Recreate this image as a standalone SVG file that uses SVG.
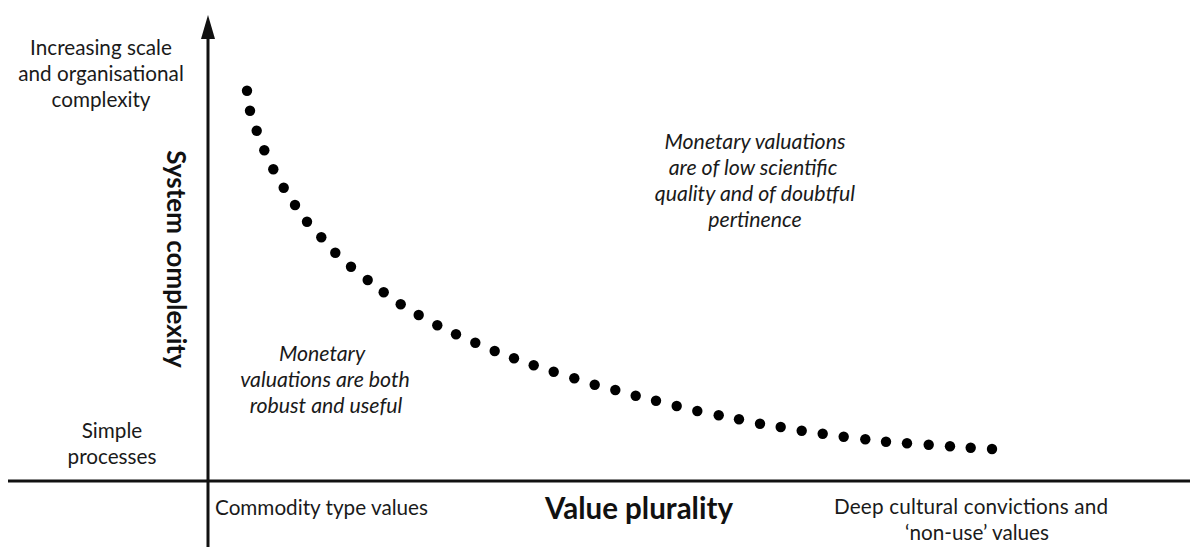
<svg xmlns="http://www.w3.org/2000/svg" width="1190" height="547" viewBox="0 0 1190 547">
<style>
  .lbl { font-family: Lato, "Open Sans", "Liberation Sans", sans-serif; font-size: 20.7px; fill: #1a1a1a; text-anchor: middle; }
  .ital { font-family: Lato, "Open Sans", "Liberation Sans", sans-serif; font-size: 21.3px; font-style: italic; fill: #1a1a1a; text-anchor: middle; }
  .axt { font-family: Lato, "Open Sans", "Liberation Sans", sans-serif; font-weight: bold; fill: #111; text-anchor: middle; }
  .axis { stroke: #111; stroke-width: 3; fill: none; }
  .dot { fill: #000; }
</style>
<defs>
  <marker id="arrow" markerUnits="userSpaceOnUse" markerWidth="24" markerHeight="14" refX="12" refY="7" orient="auto">
    <path d="M0,0 L24,7 L0,14 Z" fill="#111"/>
  </marker>
</defs>
<rect width="1190" height="547" fill="#fff"/>
<g id="connectors">
  <line class="axis" x1="208" y1="547" x2="208" y2="27" marker-end="url(#arrow)"/>
  <line class="axis" x1="8" y1="481" x2="1190" y2="481"/>
</g>
<g id="curve">
  <circle class="dot" cx="247" cy="90.7" r="5.2"/>
  <circle class="dot" cx="250" cy="110.7" r="5.2"/>
  <circle class="dot" cx="256.7" cy="130.7" r="5.2"/>
  <circle class="dot" cx="264.3" cy="150.3" r="5.2"/>
  <circle class="dot" cx="273.3" cy="169.3" r="5.2"/>
  <circle class="dot" cx="283.7" cy="187.7" r="5.2"/>
  <circle class="dot" cx="295" cy="205" r="5.2"/>
  <circle class="dot" cx="307" cy="221.7" r="5.2"/>
  <circle class="dot" cx="321.3" cy="237.3" r="5.2"/>
  <circle class="dot" cx="335.3" cy="252.7" r="5.2"/>
  <circle class="dot" cx="351" cy="266.7" r="5.2"/>
  <circle class="dot" cx="367.7" cy="280" r="5.2"/>
  <circle class="dot" cx="383.7" cy="292.3" r="5.2"/>
  <circle class="dot" cx="400.7" cy="304.3" r="5.2"/>
  <circle class="dot" cx="418.7" cy="315" r="5.2"/>
  <circle class="dot" cx="437.3" cy="325.2" r="5.2"/>
  <circle class="dot" cx="456" cy="334.3" r="5.2"/>
  <circle class="dot" cx="475.3" cy="342.7" r="5.2"/>
  <circle class="dot" cx="494.7" cy="351" r="5.2"/>
  <circle class="dot" cx="514" cy="358.3" r="5.2"/>
  <circle class="dot" cx="533.7" cy="365.3" r="5.2"/>
  <circle class="dot" cx="553.7" cy="371.7" r="5.2"/>
  <circle class="dot" cx="574.3" cy="378.3" r="5.2"/>
  <circle class="dot" cx="594.7" cy="384.7" r="5.2"/>
  <circle class="dot" cx="615.3" cy="390" r="5.2"/>
  <circle class="dot" cx="635.7" cy="395.7" r="5.2"/>
  <circle class="dot" cx="656" cy="400.7" r="5.2"/>
  <circle class="dot" cx="676.7" cy="406" r="5.2"/>
  <circle class="dot" cx="697.3" cy="411" r="5.2"/>
  <circle class="dot" cx="718.7" cy="415.3" r="5.2"/>
  <circle class="dot" cx="739" cy="419.3" r="5.2"/>
  <circle class="dot" cx="760" cy="423.7" r="5.2"/>
  <circle class="dot" cx="780.7" cy="427" r="5.2"/>
  <circle class="dot" cx="801.7" cy="430.7" r="5.2"/>
  <circle class="dot" cx="822.7" cy="433.7" r="5.2"/>
  <circle class="dot" cx="843.7" cy="436.7" r="5.2"/>
  <circle class="dot" cx="865.3" cy="439.3" r="5.2"/>
  <circle class="dot" cx="886" cy="441.7" r="5.2"/>
  <circle class="dot" cx="907" cy="443.3" r="5.2"/>
  <circle class="dot" cx="928.7" cy="444.7" r="5.2"/>
  <circle class="dot" cx="950" cy="446.3" r="5.2"/>
  <circle class="dot" cx="970.7" cy="447.7" r="5.2"/>
  <circle class="dot" cx="992" cy="449" r="5.2"/>
</g>
<g id="y-high">
  <text class="lbl" x="101" y="55">Increasing scale</text>
  <text class="lbl" x="101" y="81">and organisational</text>
  <text class="lbl" x="101" y="107">complexity</text>
</g>
<g id="y-low">
  <text class="lbl" x="112" y="438">Simple</text>
  <text class="lbl" x="112" y="464">processes</text>
</g>
<g id="y-title">
  <text class="axt" font-size="26" transform="translate(167,259) rotate(90)">System complexity</text>
</g>
<g id="x-low">
  <text class="lbl" x="321.5" y="515">Commodity type values</text>
</g>
<g id="x-title">
  <text class="axt" font-size="29.5" x="639" y="519">Value plurality</text>
</g>
<g id="x-high">
  <text class="lbl" x="971" y="514" textLength="274">Deep cultural convictions and</text>
  <text class="lbl" x="977" y="540">‘non-use’ values</text>
</g>
<g id="region-low">
  <text class="ital" x="322" y="361">Monetary</text>
  <text class="ital" x="325" y="387">valuations are both</text>
  <text class="ital" x="326" y="413">robust and useful</text>
</g>
<g id="region-high">
  <text class="ital" x="755" y="149">Monetary valuations</text>
  <text class="ital" x="753" y="175">are of low scientific</text>
  <text class="ital" x="755" y="201">quality and of doubtful</text>
  <text class="ital" x="755" y="227">pertinence</text>
</g>
</svg>
